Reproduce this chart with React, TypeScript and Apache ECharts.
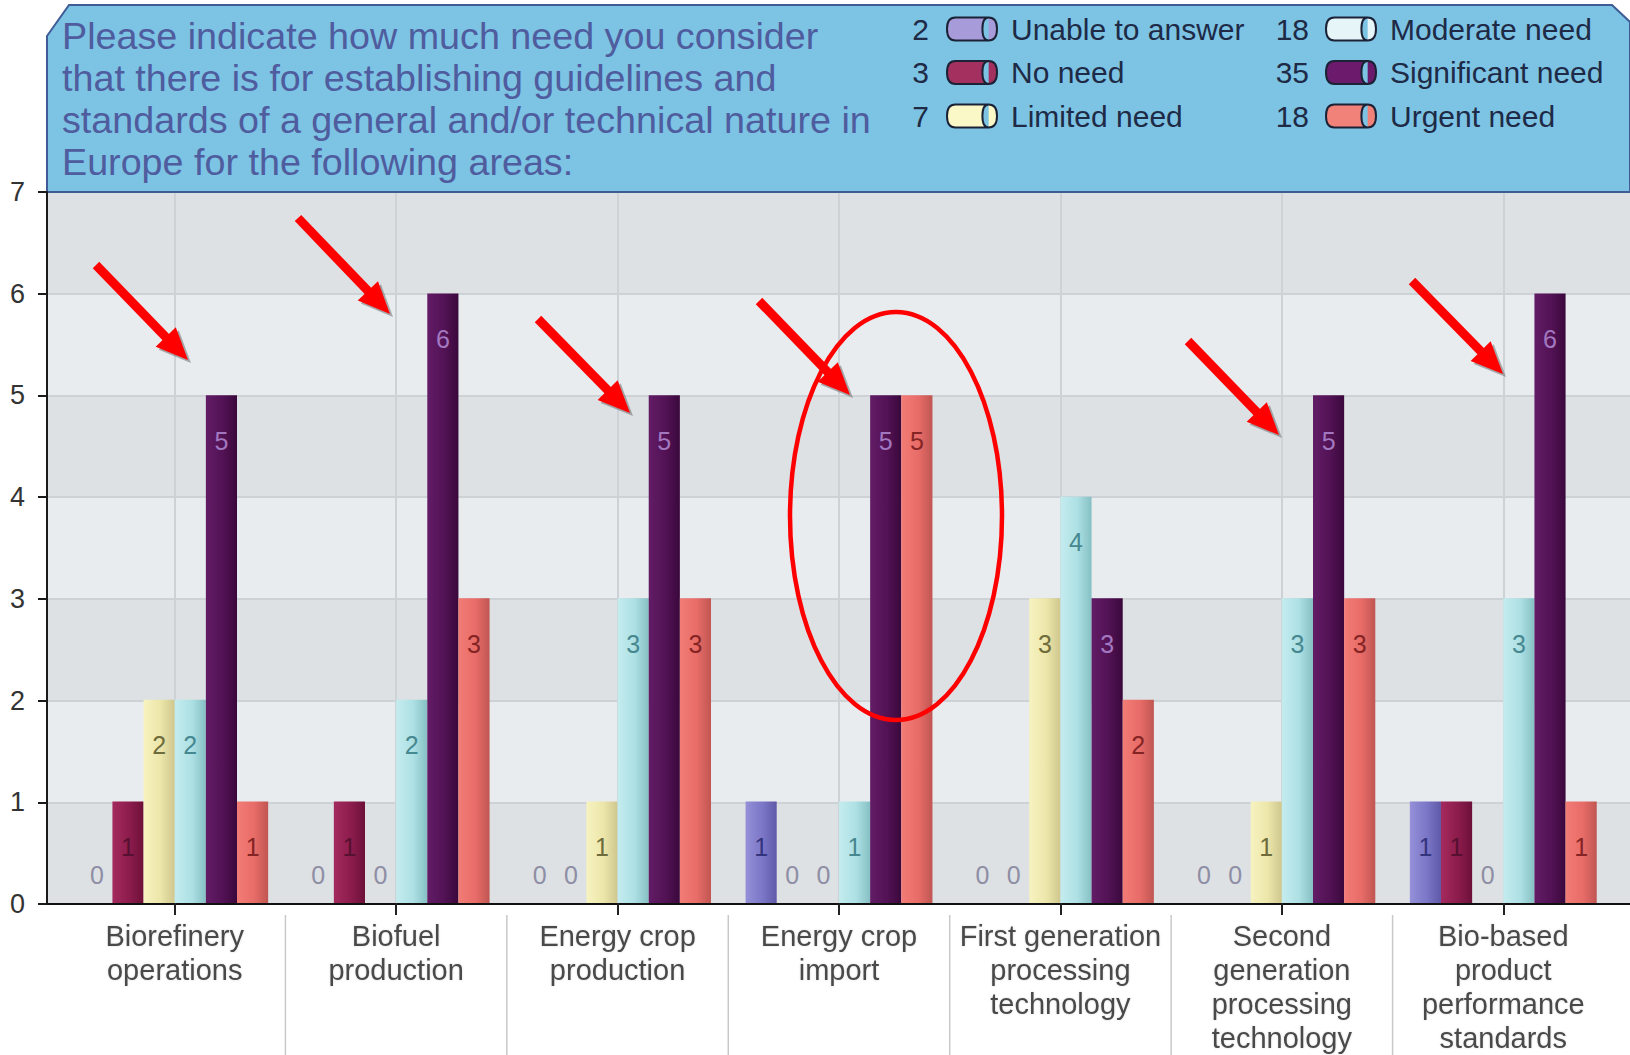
import React, { useEffect, useRef } from "react";
import * as echarts from "echarts";

// ---------- data ----------
const categories = [
  "Biorefinery\noperations",
  "Biofuel\nproduction",
  "Energy crop\nproduction",
  "Energy crop\nimport",
  "First generation\nprocessing\ntechnology",
  "Second\ngeneration\nprocessing\ntechnology",
  "Bio-based\nproduct\nperformance\nstandards",
];
const seriesNames = [
  "Unable to answer",
  "No need",
  "Limited need",
  "Moderate need",
  "Significant need",
  "Urgent need",
];
const unableToAnswer = [0, 0, 0, 1, 0, 0, 1];
const noNeed = [1, 1, 0, 0, 0, 0, 1];
const limitedNeed = [2, 0, 1, 0, 3, 1, 0];
const moderateNeed = [2, 2, 3, 1, 4, 3, 3];
const significantNeed = [5, 6, 5, 5, 3, 5, 6];
const urgentNeed = [1, 3, 3, 5, 2, 3, 1];
const seriesValues = [unableToAnswer, noNeed, limitedNeed, moderateNeed, significantNeed, urgentNeed];
const yMin = 0;
const yMax = 7;
const yInterval = 1;
const titleText =
  "Please indicate how much need you consider\nthat there is for establishing guidelines and\nstandards of a general and/or technical nature in\nEurope for the following areas:";

// ---------- styles ----------
const FONT = "'Liberation Sans', Arial, Helvetica, sans-serif";
const barColors = [
  ["#9590d8", "#7b76c6", "#5f59a8"],
  ["#a42a5e", "#8c1c4c", "#6c1038"],
  ["#f7f3c0", "#ece6aa", "#cfc78e"],
  ["#c4ecef", "#ade0e4", "#86c0c4"],
  ["#621c66", "#521254", "#3a083c"],
  ["#f27c76", "#e86c68", "#c05652"],
];
const legendColors = ["#a79bd9", "#a3305e", "#fbf8c8", "#e6f5f8", "#6c1a6c", "#f08279"];
const labelColors = ["#34347e", "#561030", "#6e6c3c", "#468890", "#a278c0", "#842424"];
const zeroLabelColor = "#8e8ea4";

// annotation overlay (red arrows and ellipse drawn on the picture)
const arrows = [
  [96, 265, 188, 360],
  [298, 218, 390, 314],
  [538, 319, 630, 413],
  [759, 301, 850, 395],
  [1188, 341, 1279, 435],
  [1412, 281, 1503, 374],
];
const ellipseAnno = { cx: 896, cy: 516, rx: 106, ry: 204 };

function arrowEls(x1: number, y1: number, x2: number, y2: number) {
  const dx = x2 - x1;
  const dy = y2 - y1;
  const len = Math.hypot(dx, dy);
  const ux = dx / len;
  const uy = dy / len;
  const px = -uy;
  const py = ux;
  const headLen = 32;
  const headW = 14;
  const bx = x2 - ux * headLen;
  const by = y2 - uy * headLen;
  const sh = 3;
  return [
    {
      type: "polygon",
      z: 100,
      silent: true,
      shape: {
        points: [
          [x2 + sh, y2 + sh],
          [bx + px * headW + sh, by + py * headW + sh],
          [bx - px * headW + sh, by - py * headW + sh],
        ],
      },
      style: { fill: "rgba(110,110,110,0.55)" },
    },
    {
      type: "line",
      z: 101,
      silent: true,
      shape: { x1, y1, x2: bx + ux * 6, y2: by + uy * 6 },
      style: { stroke: "#ff0000", lineWidth: 9 },
    },
    {
      type: "polygon",
      z: 102,
      silent: true,
      shape: {
        points: [
          [x2, y2],
          [bx + px * headW, by + py * headW],
          [bx - px * headW, by - py * headW],
        ],
      },
      style: { fill: "#ff0000" },
    },
  ];
}

const legendIcon =
  "path://M9,1 H41 Q49,1 49,12 Q49,23 41,23 H9 Q1,23 1,12 Q1,1 9,1 Z M41,1 Q35,1 35,12 Q35,23 41,23";

export default function App() {
  const ref = useRef<HTMLDivElement>(null);

  useEffect(() => {
    if (!ref.current) return;
    const chart = echarts.init(ref.current, undefined, { renderer: "svg" });

    const series = seriesNames.map((name, si) => ({
      name,
      type: "bar",
      xAxisIndex: 1,
      yAxisIndex: 1,
      barGap: "0%",
      barCategoryGap: "15.6%",
      z: 3,
      itemStyle: {
        color: new echarts.graphic.LinearGradient(0, 0, 1, 0, [
          { offset: 0, color: barColors[si][0] },
          { offset: 0.55, color: barColors[si][1] },
          { offset: 1, color: barColors[si][2] },
        ]),
      },
      label: {
        show: true,
        position: "insideTop",
        distance: 33,
        fontSize: 25,
        fontFamily: FONT,
        color: labelColors[si],
        formatter: "{c}",
      },
      data: seriesValues[si].map((v) =>
        v === 0
          ? { value: v, label: { position: "top", distance: 16, color: zeroLabelColor } }
          : v
      ),
    }));

    const totals = seriesValues.map((arr) => arr.reduce((a, b) => a + b, 0));

    const legendCommon = {
      orient: "vertical",
      top: 14,
      itemWidth: 50,
      itemHeight: 24,
      itemGap: 13.5,
      icon: legendIcon,
      padding: 0,
      z: 10,
      selectedMode: false,
      itemStyle: { borderColor: "#1c2236", borderWidth: 2 },
      textStyle: {
        fontSize: 30,
        lineHeight: 30,
        color: "#1e2a46",
        fontFamily: FONT,
        padding: [0, 0, 0, 9],
      },
    };

    const option: any = {
      animation: false,
      backgroundColor: "#ffffff",
      textStyle: { fontFamily: FONT },
      title: {
        text: titleText,
        left: 62,
        top: 15,
        padding: 0,
        z: 10,
        textStyle: {
          fontSize: 37.7,
          lineHeight: 42,
          fontWeight: "normal",
          color: "#4f5c9e",
          fontFamily: FONT,
        },
      },
      legend: [
        {
          ...legendCommon,
          left: 946,
          data: seriesNames.slice(0, 3).map((n, i) => ({ name: n, itemStyle: { color: legendColors[i] } })),
        },
        {
          ...legendCommon,
          left: 1325,
          data: seriesNames.slice(3).map((n, i) => ({ name: n, itemStyle: { color: legendColors[i + 3] } })),
        },
      ],
      grid: [
        { left: 47, top: 192, right: 0, height: 712, containLabel: false },
        { left: 64, top: 192, width: 1550, height: 712, containLabel: false },
      ],
      xAxis: [
        {
          gridIndex: 0,
          type: "value",
          min: 0,
          max: 1,
          axisLine: { show: true, lineStyle: { color: "#111", width: 2 } },
          axisTick: { show: false },
          axisLabel: { show: false },
          splitLine: { show: false },
        },
        {
          gridIndex: 1,
          type: "category",
          data: categories,
          axisLine: { show: false },
          axisTick: { show: true, alignWithLabel: true, length: 12, lineStyle: { color: "#222", width: 2 } },
          axisLabel: {
            fontSize: 29,
            lineHeight: 34,
            margin: 16,
            color: "#4a4a4a",
            fontFamily: FONT,
            interval: 0,
            textShadowColor: "rgba(0,0,0,0.15)",
            textShadowBlur: 2,
          },
          splitLine: { show: true, alignWithLabel: true, lineStyle: { color: "#cdd2d6", width: 2 } },
        },
      ],
      yAxis: [
        {
          gridIndex: 0,
          type: "value",
          min: yMin,
          max: yMax,
          interval: yInterval,
          axisLine: { show: true, lineStyle: { color: "#1a1a1a", width: 2 } },
          axisTick: { show: true, length: 9, lineStyle: { color: "#1a1a1a", width: 2 } },
          axisLabel: { fontSize: 27, color: "#333", margin: 22, fontFamily: FONT },
          splitLine: { show: true, lineStyle: { color: "#cdd2d6", width: 2 } },
          splitArea: { show: true, areaStyle: { color: ["#dde1e4", "#e8ecef"] } },
        },
        {
          gridIndex: 1,
          type: "value",
          min: yMin,
          max: yMax,
          interval: yInterval,
          show: false,
          splitLine: { show: false },
        },
      ],
      series,
    };

    chart.setOption(option);

    // legend totals and label separators, positioned through the axis scale
    const centers = categories.map((_, i) => chart.convertToPixel({ xAxisIndex: 1 }, i) as number);
    const separators = centers.slice(0, -1).map((c, i) => (c + centers[i + 1]) / 2);

    const graphics: any[] = [
      {
        type: "polygon",
        z: 0,
        silent: true,
        shape: {
          points: [
            [47, 36],
            [69, 5],
            [1612, 5],
            [1630, 22],
            [1630, 192],
            [47, 192],
          ],
        },
        style: { fill: "#7cc3e4", stroke: "#3f5c96", lineWidth: 2 },
      },
    ];
    totals.forEach((t, i) => {
      const col = i < 3 ? 0 : 1;
      const row = i % 3;
      graphics.push({
        type: "text",
        z: 11,
        silent: true,
        x: col === 0 ? 929 : 1309,
        y: 29 + row * 43.5,
        style: {
          text: String(t),
          fontSize: 30,
          fontFamily: FONT,
          fill: "#1e2a46",
          align: "right",
          verticalAlign: "middle",
        },
      });
    });
    separators.forEach((x) => {
      graphics.push({
        type: "line",
        z: 1,
        silent: true,
        shape: { x1: x, y1: 915, x2: x, y2: 1055 },
        style: { stroke: "#c9c9c9", lineWidth: 1.5 },
      });
    });
    arrows.forEach((a) => graphics.push(...arrowEls(a[0], a[1], a[2], a[3])));
    graphics.push({
      type: "ellipse",
      z: 100,
      silent: true,
      shape: ellipseAnno,
      style: { fill: "none", stroke: "#ff0000", lineWidth: 4.5 },
    });

    chart.setOption({ graphic: { elements: graphics } });

    return () => chart.dispose();
  }, []);

  return (
    <div
      ref={ref}
      style={{ position: "absolute", left: 0, top: 0, width: 1630, height: 1055 }}
    />
  );
}
